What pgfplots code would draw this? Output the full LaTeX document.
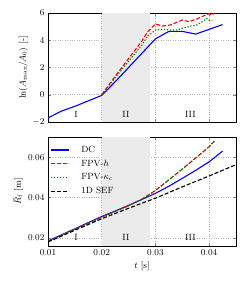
\documentclass[border=0pt]{standalone}
\usepackage{pgfplots}
\pgfplotsset{compat=1.18}
\definecolor{regiongray}{gray}{0.92}
\begin{document}
\begin{tikzpicture}[font=\fontsize{9}{10.5}\selectfont]
\pgfplotsset{
  every axis/.append style={
    width=188pt, height=109pt, scale only axis,
    xmin=0.01, xmax=0.045,
    xtick={0.01,0.02,0.03,0.04},
    tick align=inside,
    major tick length=3pt,
    grid=major,
    grid style={dotted, gray!55, line width=0.5pt},
    axis line style={line width=0.8pt},
    scaled ticks=false,
    xticklabel style={/pgf/number format/fixed, /pgf/number format/precision=2},
    tick label style={font=\fontsize{9}{10.5}\selectfont},
    label style={font=\fontsize{9}{10.5}\selectfont},
  },
}
\begin{axis}[name=top,
  ymin=-2, ymax=6, ytick={-2,0,2,4,6},
  xticklabels={},
  ylabel={$\ln(A_{\max}/A_0)$ [-]},
  ylabel style={yshift=-2pt},
]
\fill[regiongray] (axis cs:0.02,-2) rectangle (axis cs:0.029,6);
\node at (axis cs:0.0152,-1.45) {I};
\node at (axis cs:0.0245,-1.45) {II};
\node at (axis cs:0.0365,-1.45) {III};
\addplot[blue, line width=1.1pt] coordinates {
(0.01,-1.7)(0.0125,-1.2)(0.015,-0.85)(0.0175,-0.45)(0.02,-0.05)(0.0225,0.95)(0.025,2.0)(0.0275,3.05)(0.03,4.1)(0.0325,4.65)(0.035,4.65)(0.0375,4.45)(0.04,4.8)(0.0425,5.15)};
\addplot[red, line width=1.1pt, dash pattern=on 4pt off 2pt] coordinates {
(0.02,0)(0.0225,1.35)(0.025,2.65)(0.0275,3.95)(0.0285,4.6)(0.03,5.2)(0.0313,5.04)(0.0328,5.12)(0.035,5.49)(0.0362,5.36)(0.0377,5.56)(0.0393,5.85)(0.04,5.95)(0.0405,5.85)(0.041,6.0)};
\addplot[green!50!black, line width=1.1pt, dash pattern=on 1.3pt off 1.7pt] coordinates {
(0.02,0)(0.0225,1.25)(0.025,2.45)(0.0275,3.65)(0.0285,4.3)(0.03,4.75)(0.0313,4.8)(0.0328,4.75)(0.034,4.75)(0.035,4.88)(0.0362,5.0)(0.0377,5.12)(0.039,5.43)(0.0395,5.6)(0.04,5.47)(0.0406,5.43)};
\end{axis}
\begin{axis}[name=bot,
  at={(top.south west)}, anchor=north west, yshift=-15pt,
  ymin=0.016, ymax=0.07, ytick={0.02,0.04,0.06},
  yticklabel style={/pgf/number format/fixed, /pgf/number format/precision=2, /pgf/number format/fixed zerofill},
  xlabel={$t$ [s]},
  ylabel={$\bar{R}_{\mathrm{f}}$ [m]},
  ylabel style={yshift=-2pt},
  legend cell align=left,
  legend style={draw=none, fill=none, at={(0.0,0.955)}, anchor=north west,
    font=\fontsize{9}{10.5}\selectfont, row sep=2pt, inner sep=2pt,
    /tikz/every odd column/.append style={column sep=10pt}},
  legend image code/.code={\draw[#1] (0pt,0pt) -- (18pt,0pt);},
]
\fill[regiongray] (axis cs:0.02,0.016) rectangle (axis cs:0.029,0.07);
\node at (axis cs:0.0152,0.0200) {I};
\node at (axis cs:0.0245,0.0200) {II};
\node at (axis cs:0.0365,0.0200) {III};
\addplot[blue, line width=1.1pt] coordinates {
(0.01,0.0185)(0.0125,0.0215)(0.015,0.0245)(0.0175,0.0276)(0.02,0.0306)(0.0225,0.0333)(0.025,0.0361)(0.0275,0.0391)(0.03,0.0421)(0.0325,0.0456)(0.035,0.0495)(0.0375,0.0535)(0.04,0.0577)(0.0425,0.063)};
\addlegendentry{DC}
\addplot[red, line width=1.1pt, dash pattern=on 4pt off 2pt] coordinates {
(0.01,0.0182)(0.015,0.0243)(0.02,0.0303)(0.025,0.036)(0.0275,0.0392)(0.03,0.0435)(0.0325,0.0488)(0.035,0.0541)(0.0375,0.0596)(0.04,0.0652)(0.041,0.068)};
\addlegendentry{FPV-$h$}
\addplot[green!50!black, line width=1.1pt, dash pattern=on 1.3pt off 1.7pt] coordinates {
(0.01,0.0182)(0.015,0.0243)(0.02,0.0303)(0.025,0.036)(0.0275,0.0392)(0.03,0.0435)(0.0325,0.0488)(0.035,0.0541)(0.0375,0.0596)(0.04,0.0652)(0.041,0.068)};
\addlegendentry{FPV-$\kappa_c$}
\addplot[black, line width=1.1pt, dash pattern=on 4pt off 2pt] coordinates {
(0.01,0.0180)(0.015,0.0238)(0.02,0.0295)(0.025,0.0347)(0.03,0.0397)(0.035,0.0453)(0.04,0.0507)(0.045,0.0563)};
\addlegendentry{1D SEF}
\end{axis}
\pgfresetboundingbox
\path ([xshift=-48pt,yshift=13pt]top.north west) rectangle ([xshift=9pt,yshift=-38pt]bot.south east);
\end{tikzpicture}
\end{document}
